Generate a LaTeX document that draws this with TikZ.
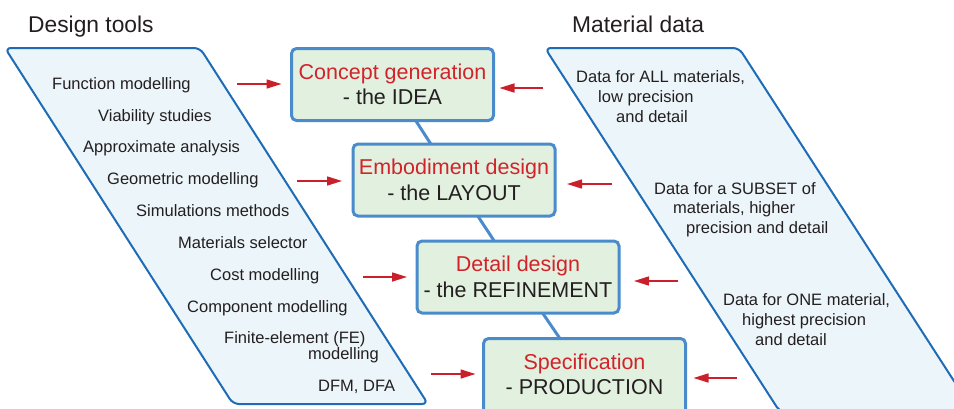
\documentclass[tikz,border=0pt]{standalone}
\usepackage{fontspec}
\setmainfont{Liberation Sans}
\usetikzlibrary{arrows.meta}
\definecolor{ink}{HTML}{231F20}
\definecolor{stagefill}{HTML}{E2F0DF}
\definecolor{stageline}{HTML}{4A8CCB}
\definecolor{panelfill}{HTML}{ECF5FA}
\definecolor{panelline}{HTML}{1E6CB6}
\definecolor{feedred}{HTML}{C9202C}
\definecolor{stagered}{HTML}{D2232A}
\begin{document}
\begin{tikzpicture}[x=1pt,y=-1pt,
  panel/.style={draw=panelline, fill=panelfill, line width=2pt, rounded corners=6pt},
  stagetext/.style={inner sep=0pt, align=center, text=ink,
    font=\fontsize{21.5}{25.5}\selectfont},
  stage/.style={stagetext, draw=stageline, fill=stagefill, line width=3pt,
    rounded corners=5pt, minimum width=202pt, minimum height=72pt},
  item/.style={anchor=base west, inner sep=0pt, text=ink, font=\fontsize{16.5}{20}\selectfont},
  heading/.style={anchor=base west, inner sep=0pt, text=ink, font=\fontsize{22.8}{27}\selectfont},
  feed/.style={draw=feedred, line width=1.6pt, -{Triangle[length=15pt,width=9pt]}},
  link/.style={draw=stageline, line width=3pt}]
\useasboundingbox (0,0) rectangle (954,408);
\clip (0,0) rectangle (954,408);

% headings
\node[heading] (htools) at (28,32) {Design tools};
\node[heading] (hdata) at (572,32) {Material data};

% slanted panels
\path[panel] (5,48) -- (200,48) -- (428,404) -- (233,404) -- cycle;
\path[panel] (545,48) -- (739,48) -- (974,412) -- (780,412) -- cycle;

% design tools
\foreach \txt/\x/\y [count=\i] in {
  Function modelling/52/89,
  Viability studies/98/121,
  Approximate analysis/83/152,
  Geometric modelling/107/184,
  Simulations methods/136/216,
  Materials selector/178/248,
  Cost modelling/210/280,
  Component modelling/187/312,
  Finite-element (FE)/224/343,
  modelling/308/359,
  {DFM, DFA}/318/391}
  \node[item] (tool\i) at (\x,\y) {\txt};

% material data
\node[item] (d1a) at (576,82) {Data for ALL materials,};
\node[item] (d1b) at (598,102) {low precision};
\node[item] (d1c) at (616,122) {and detail};
\node[item] (d2a) at (654,194) {Data for a SUBSET of};
\node[item] (d2b) at (673,213) {materials, higher};
\node[item] (d2c) at (686,233) {precision and detail};
\node[item] (d3a) at (723,305) {Data for ONE material,};
\node[item] (d3b) at (742,325) {highest precision};
\node[item] (d3c) at (755,345) {and detail};

% chain of design stages
\coordinate (c1) at (392.5,84.5);
\coordinate (c2) at (454,180);
\coordinate (c3) at (518,277);
\coordinate (c4) at (584.5,374.5);
\draw[link] (c1) -- (c2) -- (c3) -- (c4);
\node[stage] (s1) at (c1) {\textcolor{stagered}{Concept generation}\\- the IDEA};
\node[stage] (s2) at (c2) {\textcolor{stagered}{Embodiment design}\\- the LAYOUT};
\node[stage] (s3) at (c3) {\textcolor{stagered}{Detail design}\\- the REFINEMENT};
% the last stage runs off the lower edge
\node[stage, minimum height=84pt] (s4) at (584.5,380.5) {};
\node[stagetext] (s4text) at (c4) {\textcolor{stagered}{Specification}\\- PRODUCTION};

% inputs from the design tools
\coordinate (tl1) at (237,84);
\coordinate (tl2) at (297,181);
\coordinate (tl3) at (363,277);
\coordinate (tl4) at (431,374);
\draw[feed] (tl1) -- ([xshift=-8.5pt]s1.west |- tl1);
\draw[feed] (tl2) -- ([xshift=-9.5pt]s2.west |- tl2);
\draw[feed] (tl3) -- ([xshift=-8.5pt]s3.west |- tl3);
\draw[feed] (tl4) -- ([xshift=-6.5pt]s4.west |- tl4);

% inputs from the material data
\coordinate (tr1) at (543,88);
\coordinate (tr2) at (612,184);
\coordinate (tr3) at (678,281);
\coordinate (tr4) at (737,378);
\draw[feed] (tr1) -- ([xshift=4.5pt]s1.east |- tr1);
\draw[feed] (tr2) -- ([xshift=10.5pt]s2.east |- tr2);
\draw[feed] (tr3) -- ([xshift=13.5pt]s3.east |- tr3);
\draw[feed] (tr4) -- ([xshift=6.5pt]s4.east |- tr4);
\end{tikzpicture}
\end{document}
